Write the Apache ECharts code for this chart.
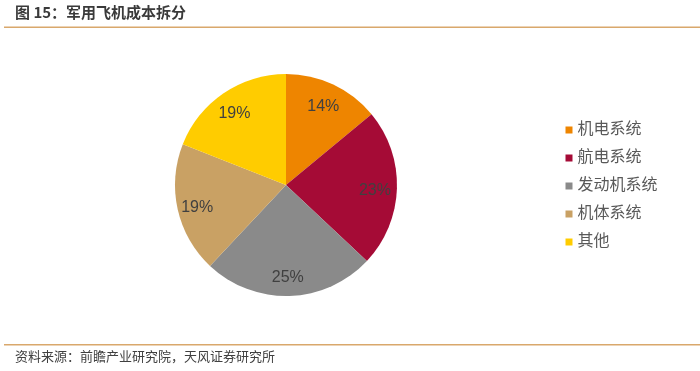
<!DOCTYPE html>
<html><head><meta charset="utf-8">
<script src="https://cdn.jsdelivr.net/npm/echarts@6/dist/echarts.min.js"></script>
<style>html,body{margin:0;padding:0;background:#fff;}#c{width:700px;height:371px;}</style>
</head><body><div id="c"></div>
<script>
const categories = ['机电系统', '航电系统', '发动机系统', '机体系统', '其他'];
const values = [14, 23, 25, 19, 19];
const colors = ['#EE8500', '#A50B36', '#8A8A8A', '#C9A164', '#FFCC00'];
const title = '图 15：军用飞机成本拆分';
const source = '资料来源：前瞻产业研究院，天风证券研究所';

const FONT = "'Liberation Sans','Noto Sans CJK SC',sans-serif";
const data = categories.map((n, i) => ({ name: n, value: values[i], itemStyle: { color: colors[i] } }));
const chart = echarts.init(document.getElementById('c'), null, { renderer: 'canvas' });
chart.setOption({
  animation: false,
  backgroundColor: '#fff',
  legend: {
    orient: 'vertical', left: 565.5, top: 122, padding: 0,
    itemWidth: 7, itemHeight: 7, itemGap: 12, icon: 'rect',
    textStyle: { fontFamily: FONT, fontSize: 16, color: '#595959', lineHeight: 16 },
    data: categories
  },
  series: [
    {
      type: 'pie', center: [286, 185], radius: [0, 111], startAngle: 90, clockwise: true,
      silent: true, label: { show: false }, labelLine: { show: false },
      itemStyle: { borderWidth: 0 }, data: data
    },
    {
      type: 'pie', center: [286, 185], radius: [63, 111], startAngle: 90, clockwise: true,
      silent: true, legendHoverLink: false,
      itemStyle: { color: 'rgba(0,0,0,0)', borderWidth: 0 },
      label: { show: true, position: 'inside', formatter: p => p.value + '%', fontFamily: FONT, fontSize: 16, color: '#404040', offset: [-1, 3] },
      labelLine: { show: false },
      data: categories.map((n, i) => ({ name: n + ' ', value: values[i] }))
    }
  ],
  graphic: [
    { type: 'text', left: 15, top: 5, style: { text: title, font: "bold 15px 'Noto Sans CJK SC', sans-serif", fill: '#3a3a3a' } },
    { type: 'rect', shape: { x: 4, y: 26.5, width: 696, height: 1.5 }, style: { fill: '#D9A86C' } },
    { type: 'rect', shape: { x: 4, y: 344, width: 696, height: 1.5 }, style: { fill: '#D9A86C' } },
    { type: 'text', left: 15, top: 350, style: { text: source, font: "13px 'Noto Sans CJK SC', sans-serif", fill: '#404040' } }
  ]
});
</script></body></html>
